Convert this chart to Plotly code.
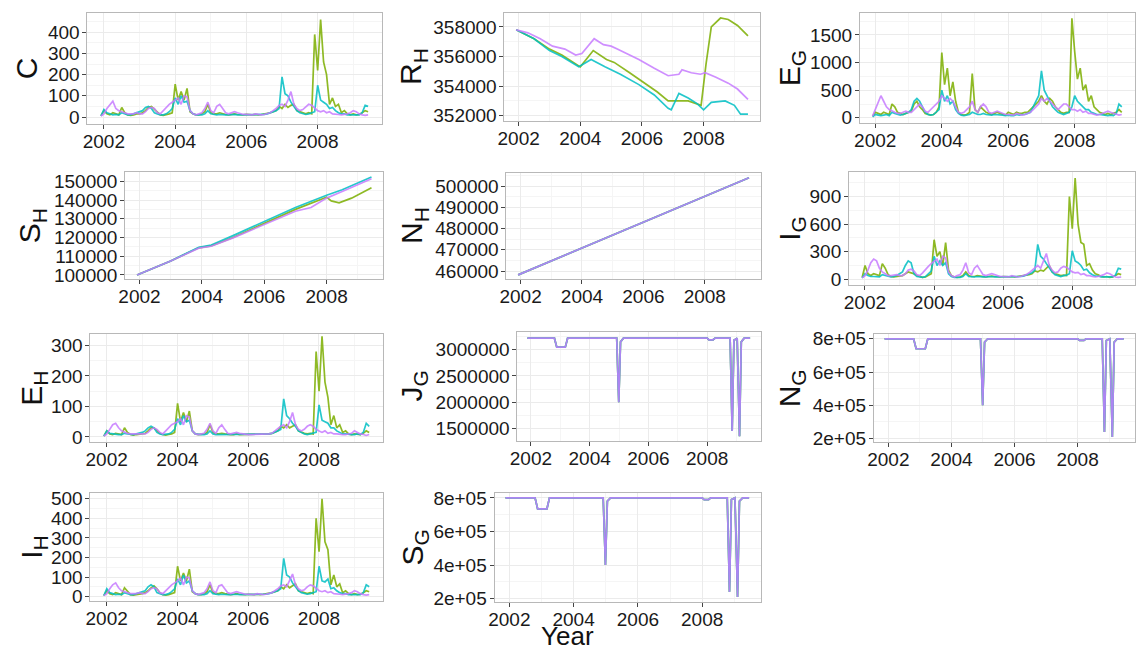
import plotly.graph_objects as go

W, H = 1138, 656
GREEN, CYAN, PURPLE = "#7CAE00", "#00BFC4", "#C77CFF"
FONT = "Liberation Sans, Arial, sans-serif"

# Monthly series start in December 2001
START = 2001.92

# ---------------- C ----------------
c_green = [5,
    30, 15, 10, 20, 15, 10, 45, 20, 10, 8, 10, 15,
    15, 20, 30, 45, 50, 35, 20, 10, 8, 10, 15, 20,
    155, 80, 120, 80, 135, 25, 15, 10, 10, 15, 25, 60,
    20, 15, 15, 20, 15, 12, 10, 12, 15, 12, 10, 10,
    12, 10, 10, 12, 10, 12, 15, 15, 20, 25, 30, 50,
    40, 60, 45, 55, 60, 30, 25, 20, 15, 20, 15, 390,
    220, 460, 260, 200, 60, 90, 50, 60, 20, 30, 15, 10,
    15, 10, 12, 20, 30, 25]
c_cyan = [5,
    35, 20, 15, 10, 12, 10, 20, 15, 10, 10, 15, 20,
    25, 30, 45, 50, 40, 20, 15, 10, 10, 15, 25, 40,
    90, 60, 100, 70, 75, 30, 15, 10, 10, 10, 15, 30,
    15, 12, 10, 12, 10, 10, 10, 12, 12, 10, 10, 10,
    10, 10, 10, 12, 10, 12, 12, 15, 20, 25, 30, 40,
    190, 110, 100, 70, 50, 30, 20, 15, 12, 15, 20, 25,
    150, 80, 70, 60, 40, 45, 30, 20, 15, 15, 10, 10,
    10, 12, 10, 20, 55, 50]
c_purple = [5,
    15, 40, 60, 75, 40, 30, 25, 20, 15, 15, 15, 20,
    15, 15, 25, 40, 45, 40, 20, 15, 30, 50, 60, 70,
    80, 90, 60, 100, 95, 30, 15, 10, 15, 20, 40, 70,
    30, 20, 50, 60, 40, 20, 15, 20, 25, 20, 15, 12,
    12, 10, 10, 15, 12, 10, 12, 15, 20, 30, 40, 55,
    60, 50, 80, 120, 60, 40, 30, 35, 50, 60, 55, 40,
    30, 25, 30, 20, 25, 15, 15, 12, 10, 12, 15, 20,
    30, 25, 15, 10, 8, 10]

# ---------------- E_G ----------------
eg_green = [30,
    100, 80, 60, 100, 80, 60, 250, 200, 100, 80, 60, 80,
    100, 120, 250, 300, 200, 150, 80, 60, 50, 60, 100, 200,
    1180, 600, 900, 400, 650, 300, 100, 60, 50, 60, 100, 800,
    150, 100, 200, 150, 100, 80, 60, 80, 100, 80, 60, 50,
    100, 80, 60, 100, 80, 80, 100, 100, 150, 200, 250, 300,
    400, 300, 250, 350, 300, 200, 150, 100, 80, 100, 100, 1800,
    1200, 700, 900, 500, 600, 300, 400, 200, 150, 100, 80, 60,
    80, 60, 80, 100, 150, 100]
eg_cyan = [20,
    60, 50, 40, 50, 60, 40, 100, 80, 60, 50, 60, 80,
    100, 150, 300, 350, 300, 200, 100, 60, 50, 60, 100, 150,
    500, 300, 400, 250, 300, 150, 80, 50, 40, 50, 60, 100,
    80, 60, 60, 80, 60, 50, 50, 60, 60, 50, 50, 40,
    50, 40, 40, 60, 50, 60, 60, 80, 100, 200, 300, 400,
    850, 500, 400, 300, 200, 150, 100, 80, 60, 80, 100, 200,
    400, 300, 250, 200, 150, 150, 100, 80, 60, 60, 50, 40,
    40, 50, 40, 80, 250, 200]
eg_purple = [30,
    150, 250, 400, 300, 200, 150, 120, 100, 80, 80, 100, 120,
    100, 100, 150, 200, 250, 200, 120, 100, 150, 200, 250, 300,
    400, 350, 300, 350, 300, 200, 100, 80, 100, 150, 200, 300,
    150, 100, 200, 250, 200, 100, 80, 100, 120, 100, 80, 60,
    60, 50, 50, 80, 60, 50, 60, 80, 100, 150, 200, 250,
    350, 300, 350, 300, 250, 200, 150, 200, 250, 250, 200, 150,
    150, 120, 150, 100, 120, 80, 80, 60, 50, 60, 80, 100,
    120, 100, 80, 60, 50, 60]

# ---------------- I_G ----------------
ig_green = [20,
    150, 60, 40, 60, 50, 40, 170, 120, 50, 30, 25, 30,
    30, 40, 60, 80, 70, 60, 40, 30, 20, 25, 40, 60,
    430, 250, 300, 150, 400, 100, 40, 25, 20, 25, 40, 80,
    40, 30, 30, 40, 35, 30, 25, 30, 35, 30, 25, 25,
    30, 25, 25, 30, 25, 30, 35, 35, 45, 50, 60, 90,
    80, 100, 90, 120, 150, 80, 60, 50, 40, 45, 40, 900,
    550, 1100, 600, 400, 380, 150, 170, 100, 60, 50, 30, 25,
    30, 20, 25, 40, 60, 50]
ig_cyan = [15,
    60, 40, 30, 30, 30, 25, 50, 40, 30, 25, 30, 40,
    60, 80, 150, 200, 180, 60, 30, 25, 20, 30, 60, 90,
    250, 150, 200, 150, 180, 60, 30, 20, 20, 20, 30, 60,
    30, 25, 25, 30, 25, 25, 25, 30, 30, 25, 25, 25,
    25, 25, 25, 30, 25, 30, 30, 35, 45, 60, 70, 100,
    380, 250, 220, 170, 120, 80, 50, 40, 30, 40, 45, 60,
    310, 200, 180, 150, 100, 110, 70, 50, 35, 35, 25, 25,
    25, 30, 25, 45, 120, 110]
ig_purple = [15,
    40, 100, 180, 220, 200, 120, 80, 60, 40, 40, 45, 50,
    40, 40, 60, 100, 110, 90, 50, 40, 70, 110, 140, 170,
    200, 220, 150, 250, 230, 80, 40, 25, 40, 50, 100, 180,
    70, 50, 120, 150, 100, 50, 40, 50, 60, 50, 40, 30,
    30, 25, 25, 40, 30, 25, 30, 40, 50, 70, 100, 130,
    150, 120, 200, 280, 150, 100, 70, 80, 120, 140, 130, 100,
    80, 70, 75, 50, 60, 40, 40, 30, 25, 30, 40, 50,
    70, 60, 40, 25, 20, 25]

# ---------------- E_H ----------------
eh_green = [3,
    20, 10, 8, 12, 10, 8, 30, 15, 8, 6, 8, 10,
    10, 12, 20, 30, 30, 20, 12, 8, 6, 8, 10, 15,
    110, 50, 80, 50, 85, 20, 10, 8, 8, 10, 15, 40,
    15, 10, 10, 12, 10, 8, 8, 8, 10, 8, 8, 8,
    8, 8, 8, 8, 8, 8, 10, 10, 12, 15, 20, 35,
    30, 40, 30, 35, 40, 20, 15, 12, 10, 12, 10, 280,
    150, 330, 180, 130, 40, 70, 30, 40, 15, 20, 10, 8,
    10, 8, 8, 12, 20, 15]
eh_cyan = [3,
    20, 12, 10, 8, 8, 8, 12, 10, 8, 8, 10, 12,
    15, 20, 30, 35, 30, 15, 10, 8, 8, 10, 15, 25,
    60, 40, 70, 50, 55, 20, 10, 8, 8, 8, 10, 20,
    10, 8, 8, 8, 8, 8, 8, 8, 8, 8, 8, 8,
    8, 8, 8, 8, 8, 8, 8, 10, 12, 15, 20, 25,
    125, 70, 60, 45, 35, 20, 15, 10, 8, 10, 12, 15,
    105, 55, 50, 45, 30, 30, 20, 15, 10, 10, 8, 8,
    8, 10, 8, 15, 45, 35]
eh_purple = [3,
    10, 25, 40, 45, 30, 20, 15, 12, 10, 10, 10, 12,
    10, 10, 15, 25, 30, 25, 15, 10, 20, 30, 40, 45,
    50, 60, 40, 70, 65, 20, 10, 8, 10, 12, 25, 45,
    20, 12, 30, 40, 25, 12, 10, 12, 15, 12, 10, 8,
    8, 8, 8, 10, 8, 8, 8, 10, 12, 20, 25, 35,
    40, 30, 50, 80, 40, 25, 20, 25, 35, 40, 35, 25,
    20, 15, 20, 12, 15, 10, 10, 8, 8, 8, 10, 12,
    20, 15, 10, 8, 5, 8]

# ---------------- I_H ----------------
ih_green = [5,
    30, 15, 10, 20, 15, 10, 45, 25, 10, 8, 10, 15,
    15, 20, 30, 45, 55, 40, 20, 10, 8, 10, 15, 20,
    155, 80, 120, 80, 140, 25, 15, 10, 10, 15, 25, 60,
    20, 15, 15, 20, 15, 12, 10, 12, 15, 12, 10, 10,
    12, 10, 10, 12, 10, 12, 15, 15, 20, 25, 30, 50,
    40, 60, 45, 55, 65, 30, 25, 20, 15, 20, 15, 400,
    230, 500, 280, 240, 60, 110, 50, 65, 20, 30, 15, 10,
    15, 10, 12, 20, 30, 25]
ih_cyan = [5,
    40, 20, 15, 10, 12, 10, 20, 15, 10, 10, 15, 20,
    25, 30, 50, 60, 50, 20, 15, 10, 10, 15, 25, 40,
    90, 60, 110, 70, 80, 30, 15, 10, 10, 10, 15, 30,
    15, 12, 10, 12, 10, 10, 10, 12, 12, 10, 10, 10,
    10, 10, 10, 12, 10, 12, 12, 15, 20, 25, 30, 40,
    195, 110, 100, 70, 50, 30, 20, 15, 12, 15, 20, 25,
    155, 80, 75, 90, 40, 45, 30, 20, 15, 15, 10, 10,
    10, 12, 10, 20, 60, 50]
ih_purple = [5,
    15, 40, 60, 70, 45, 30, 25, 20, 15, 15, 15, 20,
    15, 15, 25, 40, 45, 40, 20, 15, 30, 50, 60, 70,
    80, 95, 60, 100, 95, 30, 15, 10, 15, 20, 40, 75,
    30, 20, 55, 60, 40, 20, 15, 20, 25, 20, 15, 12,
    12, 10, 10, 15, 12, 10, 12, 15, 20, 30, 40, 55,
    60, 50, 80, 115, 60, 40, 30, 35, 50, 60, 55, 40,
    30, 25, 30, 20, 25, 15, 15, 12, 10, 12, 15, 20,
    30, 25, 15, 10, 8, 10]

# ---------------- R_H (year, value) ----------------
rh_green_t = [2001.92, 2002.5, 2003.0, 2003.4, 2004.0, 2004.42, 2004.85, 2005.1, 2005.6, 2006.1,
              2006.5, 2006.85, 2007.5, 2007.92, 2008.08, 2008.25, 2008.55, 2008.8, 2009.1, 2009.44]
rh_green_v = [357800, 357200, 356500, 356100, 355300, 356400, 355800, 355600, 354900, 354200,
              353600, 353000, 353000, 352700, 355500, 358000, 358600, 358500, 358100, 357400]
rh_cyan_t = [2001.92, 2002.5, 2003.0, 2003.4, 2003.95, 2004.35, 2004.8, 2005.3, 2005.9, 2006.4,
             2006.85, 2006.95, 2007.2, 2007.5, 2007.8, 2008.0, 2008.25, 2008.7, 2009.0, 2009.2, 2009.44]
rh_cyan_v = [357800, 357200, 356400, 356000, 355300, 355800, 355300, 354800, 354100, 353400,
             352500, 352400, 353500, 353200, 352800, 352400, 352900, 353000, 352700, 352100, 352100]
rh_purple_t = [2001.92, 2002.3, 2002.7, 2003.1, 2003.5, 2003.85, 2004.05, 2004.45, 2004.75, 2005.0,
               2005.2, 2005.9, 2006.4, 2006.85, 2007.2, 2007.3, 2007.6, 2007.9, 2008.05, 2008.4,
               2008.8, 2009.1, 2009.44]
rh_purple_v = [357800, 357600, 357200, 356700, 356500, 356100, 356200, 357200, 356800, 356700,
               356500, 355800, 355200, 354700, 354800, 355100, 354900, 354800, 354900, 354600,
               354200, 353800, 353100]

# ---------------- S_H ----------------
sh_green_t = [2001.92, 2003.0, 2003.9, 2004.3, 2005.0, 2006.0, 2007.0, 2008.0, 2008.15, 2008.4,
              2008.8, 2009.44]
sh_green_v = [100000, 107500, 114500, 115500, 120000, 127500, 135000, 141500, 139500, 138500,
              141000, 146500]
sh_cyan_t = [2001.92, 2003.0, 2003.9, 2004.3, 2005.0, 2006.0, 2007.0, 2008.0, 2008.5, 2009.44]
sh_cyan_v = [100000, 107500, 114800, 116000, 121000, 128500, 136000, 142500, 145500, 152300]
sh_purple_t = [2001.92, 2003.0, 2003.9, 2004.3, 2005.0, 2006.0, 2007.0, 2007.5, 2008.0, 2008.5,
               2009.44]
sh_purple_v = [100000, 107400, 114300, 115300, 119800, 127000, 134000, 136000, 141000, 144500,
               151300]

# ---------------- N_H (the three runs coincide) ----------------
nh_t = [2001.92, 2003.5, 2005.5, 2007.5, 2009.44]
nh_v = [458200, 467800, 480000, 492000, 504000]

# ---------------- J_G, N_G, S_G (the three runs coincide) ----------------
jg_t = [2001.88, 2002.80, 2002.88, 2003.17, 2003.25, 2004.92, 2004.99, 2005.05, 2005.15, 2008.00,
        2008.06, 2008.20, 2008.27, 2008.78, 2008.85, 2008.91, 2009.02, 2009.10, 2009.16, 2009.26, 2009.46]
jg_v = [3220000, 3220000, 3050000, 3050000, 3220000, 3220000, 2000000, 3150000, 3220000, 3220000,
        3190000, 3190000, 3220000, 3220000, 1450000, 3180000, 3220000, 1350000, 3150000, 3220000, 3220000]
ng_t = [2001.88, 2002.80, 2002.88, 2003.17, 2003.25, 2004.92, 2004.99, 2005.05, 2005.15, 2008.00,
        2008.06, 2008.20, 2008.27, 2008.78, 2008.85, 2008.91, 2009.02, 2009.10, 2009.16, 2009.26, 2009.46]
ng_v = [800000, 800000, 740000, 740000, 800000, 800000, 400000, 780000, 800000, 800000,
        790000, 790000, 800000, 800000, 240000, 790000, 800000, 210000, 780000, 800000, 800000]
sg_t = [2001.88, 2002.80, 2002.88, 2003.17, 2003.25, 2004.92, 2004.99, 2005.05, 2005.15, 2008.00,
        2008.06, 2008.20, 2008.27, 2008.78, 2008.85, 2008.91, 2009.02, 2009.10, 2009.16, 2009.26, 2009.46]
sg_v = [800000, 800000, 735000, 735000, 800000, 800000, 400000, 780000, 800000, 800000,
        790000, 790000, 800000, 800000, 240000, 790000, 800000, 210000, 780000, 800000, 800000]

# Axis tick values
x_ticks = [2002, 2004, 2006, 2008]
x_minor = [2003, 2005, 2007, 2009]
g_ticks = [200000, 400000, 600000, 800000]
g_text = ["2e+05", "4e+05", "6e+05", "8e+05"]


def monthly(values):
    return [START + k / 12 for k in range(len(values))]


# panel: title, box (x0, y0, x1, y1 in px), y range, y ticks, tick text, series
panels = [
    dict(title="C", box=(80, 8, 377, 121), yr=[-32, 492], yt=[0, 100, 200, 300, 400],
         series=[(monthly(c_green), c_green, GREEN), (monthly(c_cyan), c_cyan, CYAN),
                 (monthly(c_purple), c_purple, PURPLE)], tx=18),
    dict(title="R<sub>H</sub>", box=(500, 8, 757, 118), yr=[351650, 358950],
         yt=[352000, 354000, 356000, 358000],
         series=[(rh_green_t, rh_green_v, GREEN), (rh_cyan_t, rh_cyan_v, CYAN),
                 (rh_purple_t, rh_purple_v, PURPLE)], tx=408),
    dict(title="E<sub>G</sub>", box=(858, 8, 1135, 120), yr=[-90, 1900], yt=[0, 500, 1000, 1500],
         series=[(monthly(eg_green), eg_green, GREEN), (monthly(eg_cyan), eg_cyan, CYAN),
                 (monthly(eg_purple), eg_purple, PURPLE)], tx=789),
    dict(title="S<sub>H</sub>", box=(118, 170, 378, 279), yr=[97900, 155000],
         yt=[100000, 110000, 120000, 130000, 140000, 150000],
         series=[(sh_green_t, sh_green_v, GREEN), (sh_cyan_t, sh_cyan_v, CYAN),
                 (sh_purple_t, sh_purple_v, PURPLE)], tx=24),
    dict(title="N<sub>H</sub>", box=(502, 171, 758, 279), yr=[456300, 506300],
         yt=[460000, 470000, 480000, 490000, 500000],
         series=[(nh_t, nh_v, GREEN), (nh_t, nh_v, CYAN), (nh_t, nh_v, PURPLE)], tx=409),
    dict(title="I<sub>G</sub>", box=(847, 170, 1135, 285), yr=[-60, 1168], yt=[0, 300, 600, 900],
         series=[(monthly(ig_green), ig_green, GREEN), (monthly(ig_cyan), ig_cyan, CYAN),
                 (monthly(ig_purple), ig_purple, PURPLE)], tx=789),
    dict(title="E<sub>H</sub>", box=(83, 335, 378, 445), yr=[-16, 338], yt=[0, 100, 200, 300],
         series=[(monthly(eh_green), eh_green, GREEN), (monthly(eh_cyan), eh_cyan, CYAN),
                 (monthly(eh_purple), eh_purple, PURPLE)], tx=26),
    dict(title="J<sub>G</sub>", box=(513, 333, 758, 444), yr=[1262000, 3340000],
         yt=[1500000, 2000000, 2500000, 3000000],
         series=[(jg_t, jg_v, GREEN), (jg_t, jg_v, CYAN), (jg_t, jg_v, PURPLE)], tx=408),
    dict(title="N<sub>G</sub>", box=(872, 335, 1135, 445), yr=[180500, 829500], yt=g_ticks,
         ytext=g_text,
         series=[(ng_t, ng_v, GREEN), (ng_t, ng_v, CYAN), (ng_t, ng_v, PURPLE)], tx=789),
    dict(title="I<sub>H</sub>", box=(83, 497, 378, 607), yr=[-22, 530],
         yt=[0, 100, 200, 300, 400, 500],
         series=[(monthly(ih_green), ih_green, GREEN), (monthly(ih_cyan), ih_cyan, CYAN),
                 (monthly(ih_purple), ih_purple, PURPLE)], tx=26),
    dict(title="S<sub>G</sub>", box=(490, 497, 758, 608), yr=[180500, 829500], yt=g_ticks,
         ytext=g_text,
         series=[(sg_t, sg_v, GREEN), (sg_t, sg_v, CYAN), (sg_t, sg_v, PURPLE)], tx=409),
]

fig = go.Figure()
layout = dict(
    width=W, height=H, margin=dict(l=0, r=0, t=0, b=0),
    paper_bgcolor="white", plot_bgcolor="white", showlegend=False,
    font=dict(family=FONT, color="#1a1a1a"), annotations=[],
)

X_RANGE = [2001.54, 2009.82]

for i, p in enumerate(panels, start=1):
    x0, y0, x1, y1 = p["box"]
    xa, ya = f"x{i}", f"y{i}"
    for t, v, col in p["series"]:
        fig.add_trace(go.Scatter(x=t, y=v, mode="lines", xaxis=xa, yaxis=ya,
                                 line=dict(color=col, width=1.7), opacity=0.85,
                                 hoverinfo="skip"))
    common = dict(showline=True, mirror=True, linecolor="#B8B8B8", linewidth=1,
                  ticks="outside", ticklen=4, tickwidth=1, tickcolor="#444444",
                  showgrid=True, gridcolor="#EBEBEB", gridwidth=1, zeroline=False,
                  tickfont=dict(size=19, family=FONT, color="#1a1a1a"))
    yt = p["yt"]
    ymin = [(a + b) / 2 for a, b in zip(yt[:-1], yt[1:])]
    step = yt[1] - yt[0]
    if yt[0] - step / 2 > p["yr"][0]:
        ymin.insert(0, yt[0] - step / 2)
    if yt[-1] + step / 2 < p["yr"][1]:
        ymin.append(yt[-1] + step / 2)
    layout[f"xaxis{i}"] = dict(
        common, domain=[x0 / W, x1 / W], anchor=ya, range=X_RANGE,
        tickvals=x_ticks, ticktext=[str(v) for v in x_ticks], ticklabelstandoff=-4,
        minor=dict(tickvals=x_minor, showgrid=True, gridcolor="#F5F5F5", ticks=""))
    layout[f"yaxis{i}"] = dict(
        common, domain=[1 - y1 / H, 1 - y0 / H], anchor=xa, range=p["yr"],
        tickvals=yt, ticktext=p.get("ytext", [str(v) for v in yt]), ticklabelstandoff=-1,
        minor=dict(tickvals=ymin, showgrid=True, gridcolor="#F5F5F5", ticks=""))
    layout["annotations"].append(dict(
        text=p["title"], x=p["tx"] / W, y=1 - (y0 + y1) / 2 / H, xref="paper", yref="paper",
        xanchor="center", yanchor="middle", textangle=-90, showarrow=False,
        font=dict(size=30, family=FONT, color="#111111")))

layout["annotations"].append(dict(
    text="Year", x=563 / W, y=1 - 643 / H, xref="paper", yref="paper",
    xanchor="center", yanchor="middle", showarrow=False,
    font=dict(size=26, family=FONT, color="#111111")))

fig.update_layout(**layout)
fig.write_html("out.html")
